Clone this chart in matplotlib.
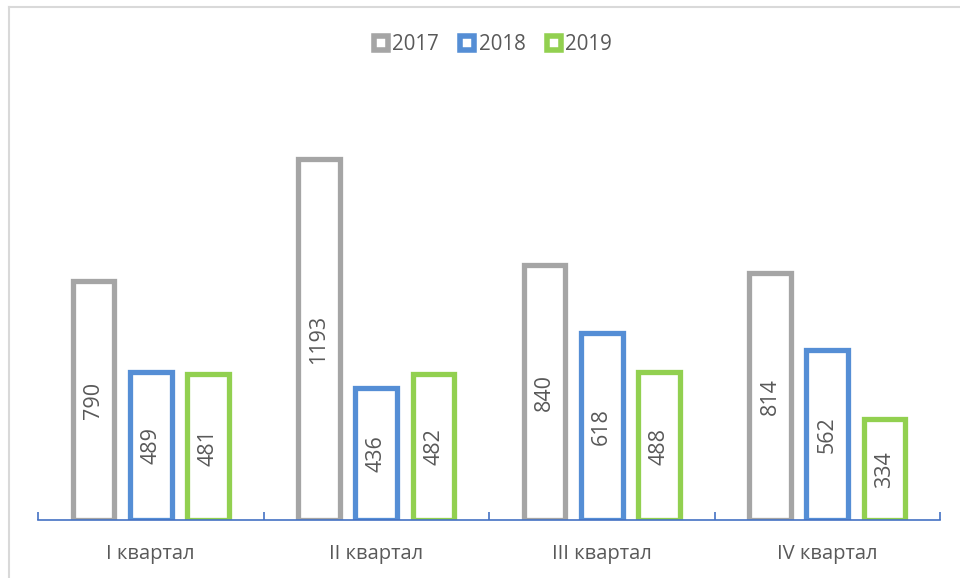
import matplotlib
matplotlib.use("Agg")
import matplotlib.pyplot as plt
from matplotlib.lines import Line2D
import numpy as np

categories = ["I квартал", "II квартал", "III квартал", "IV квартал"]
series_names = ["2017", "2018", "2019"]
v2017 = [790, 1193, 840, 814]
v2018 = [489, 436, 618, 562]
v2019 = [481, 482, 488, 334]
values = [v2017, v2018, v2019]
colors = ["#A5A5A5", "#558ED5", "#92D050"]

plt.rcParams['font.family'] = ['Open Sans', 'DejaVu Sans']

W, H = 960, 578
fig = plt.figure(figsize=(W / 100, H / 100), dpi=100)
ax_left, ax_right = 38, 940
ax_bottom_px = 520
ymax = 1450
px_per_unit = 0.303
ax_h = ymax * px_per_unit
ax = fig.add_axes([ax_left / W, (H - ax_bottom_px) / H, (ax_right - ax_left) / W, ax_h / H])

x = np.arange(len(categories))
offsets = [-0.254, 0.0, 0.254]
bw = 0.186
for vals, off, c in zip(values, offsets, colors):
    bars = ax.bar(x + off, vals, width=bw, facecolor="white", edgecolor=c,
                  linewidth=3.8, zorder=2)
    for b, v in zip(bars, vals):
        ax.text(b.get_x() + b.get_width() / 2, v / 2, str(v), rotation=90,
                ha="center", va="center", fontsize=15.5, color="#595959", zorder=3)

ax.set_xlim(-0.5, len(categories) - 0.5)
ax.set_ylim(0, ymax)
for s in ["top", "right", "left"]:
    ax.spines[s].set_visible(False)
ax.spines["bottom"].set_color("#4472C4")
ax.spines["bottom"].set_linewidth(1.2)
ax.spines["bottom"].set_zorder(4)
ax.set_yticks([])
ax.set_xticks(x)
ax.set_xticklabels(categories, fontsize=14.5, color="#595959")
ax.tick_params(axis="x", which="major", length=0, pad=17)
ax.set_xticks(np.arange(-0.5, len(categories)), minor=True)
ax.tick_params(axis="x", which="minor", direction="in", length=6, width=1.2, color="#4472C4")

handles = [Line2D([], [], linestyle="none", marker="s", markersize=10.5,
                  markerfacecolor="white", markeredgecolor=c, markeredgewidth=4.0)
           for c in colors]
leg = fig.legend(handles, series_names, loc="center", bbox_to_anchor=(492 / W, 1 - 45 / H),
                 ncol=3, frameon=False, fontsize=14.8, handlelength=0.85, handletextpad=0.12,
                 columnspacing=0.95, labelcolor="#595959")

# outer chart border (top and left visible)
fig.add_artist(Line2D([8.5 / W, 8.5 / W], [0, 1 - 6.5 / H], transform=fig.transFigure,
                      color="#D9D9D9", linewidth=1.5))
fig.add_artist(Line2D([8.5 / W, 1], [1 - 6.5 / H, 1 - 6.5 / H], transform=fig.transFigure,
                      color="#D9D9D9", linewidth=1.5))

fig.savefig("out.png", dpi=100)
